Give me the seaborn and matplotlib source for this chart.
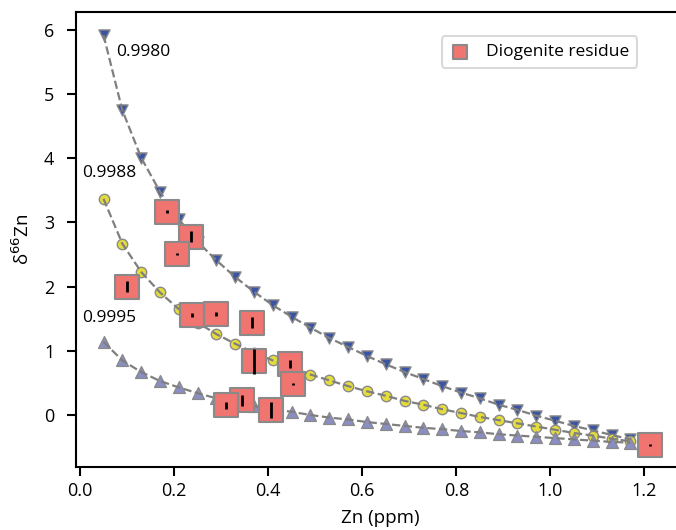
import matplotlib
matplotlib.use("Agg")
import matplotlib.pyplot as plt
import seaborn as sns
import pandas as pd

# Model curves (Rayleigh fractionation)
zn_model = [0.05, 0.09, 0.13, 0.17, 0.21, 0.25, 0.29, 0.33, 0.37, 0.41,
            0.45, 0.49, 0.53, 0.57, 0.61, 0.65, 0.69, 0.73, 0.77, 0.81,
            0.85, 0.89, 0.93, 0.97, 1.01, 1.05, 1.09, 1.13, 1.17]
d66_a9980 = [5.92, 4.75, 4.01, 3.48, 3.05, 2.70, 2.41, 2.15, 1.92, 1.71,
             1.53, 1.36, 1.20, 1.06, 0.92, 0.79, 0.67, 0.56, 0.45, 0.35,
             0.26, 0.16, 0.08, -0.01, -0.09, -0.17, -0.24, -0.31, -0.38]
d66_a9988 = [3.37, 2.67, 2.23, 1.91, 1.65, 1.44, 1.26, 1.11, 0.97, 0.85,
             0.74, 0.63, 0.54, 0.45, 0.37, 0.30, 0.22, 0.16, 0.09, 0.03,
             -0.03, -0.08, -0.13, -0.18, -0.23, -0.28, -0.32, -0.37, -0.41]
d66_a9995 = [1.14, 0.85, 0.67, 0.53, 0.43, 0.34, 0.26, 0.20, 0.14, 0.09,
             0.05, 0.00, -0.04, -0.07, -0.11, -0.14, -0.17, -0.20, -0.22, -0.25,
             -0.27, -0.30, -0.32, -0.34, -0.36, -0.38, -0.40, -0.42, -0.43]

# Diogenite residue samples
res_zn = [0.184, 0.235, 0.207, 0.100, 0.239, 0.290, 0.366, 0.369, 0.446,
          0.453, 0.344, 0.311, 0.406, 1.211]
res_d66 = [3.17, 2.78, 2.51, 2.00, 1.56, 1.58, 1.44, 0.84, 0.79,
           0.48, 0.23, 0.15, 0.08, -0.47]
res_err = [0.03, 0.085, 0.02, 0.09, 0.03, 0.03, 0.085, 0.195, 0.065,
           0.02, 0.085, 0.05, 0.12, 0.02]

labels = [("0.9980", 0.076, 5.66), ("0.9988", 0.004, 3.77), ("0.9995", 0.004, 1.51)]

sns.set_style("ticks")
plt.rcParams["font.family"] = ["Open Sans", "DejaVu Sans"]
plt.rcParams["font.size"] = 12
plt.rcParams["text.color"] = "black"
plt.rcParams["axes.labelcolor"] = "black"

fig = plt.figure(figsize=(6.76, 5.3), dpi=100)
# the frame runs past the right edge of the figure, as in the original
ax = fig.add_axes([0.1124, 0.1189, 0.8994, 0.8585])

edge = "#8a8a8a"
curves = [
    (d66_a9980, "v", "#3a54a4", 8),
    (d66_a9988, "o", "#e4dc3c", 7.5),
    (d66_a9995, "^", "#8b8ec4", 8.5),
]
for vals, mk, fc, ms in curves:
    df = pd.DataFrame({"zn": zn_model, "d66": vals})
    sns.scatterplot(data=df, x="zn", y="d66", marker=mk, color=fc,
                    s=ms ** 2, edgecolor=edge, linewidth=1.0, ax=ax, zorder=2)
    sns.lineplot(data=df, x="zn", y="d66", color="#7f7f7f", linestyle="--",
                 linewidth=1.6, sort=False, estimator=None, ax=ax, zorder=3)

res_df = pd.DataFrame({"zn": res_zn, "d66": res_d66})
sns.scatterplot(data=res_df, x="zn", y="d66", marker="s", color="#f07470",
                s=17 ** 2, edgecolor=edge, linewidth=1.5, ax=ax, zorder=4,
                label="Diogenite residue")
ax.errorbar(res_zn, res_d66, yerr=res_err, fmt="none", ecolor="black",
            elinewidth=2, capsize=0, zorder=5)

for txt, x, y in labels:
    ax.text(x, y, txt, fontsize=12.5, ha="left", va="center", color="black")

ax.set_xlim(-0.0085, 1.284)
ax.set_ylim(-0.81, 6.28)
ax.set_xticks([0.0, 0.2, 0.4, 0.6, 0.8, 1.0, 1.2])
ax.set_yticks([0, 1, 2, 3, 4, 5, 6])
ax.set_xlabel("Zn (ppm)", fontsize=13.5, labelpad=7)
ax.set_ylabel("δ$^{66}$Zn", fontsize=13.5, labelpad=8)
ax.tick_params(axis="both", direction="out", length=6.5, width=1.5,
               labelsize=13, colors="black")
ax.tick_params(axis="x", pad=4)
ax.tick_params(axis="y", pad=9)

for name, sp in ax.spines.items():
    sp.set_linewidth(1.5)
    sp.set_color("black")
    sp.set_visible(name != "right")

leg = ax.legend(loc="upper right", bbox_to_anchor=(0.9227, 0.947), borderaxespad=0,
                markerscale=0.62, fontsize=12.5, frameon=True, fancybox=True,
                handlelength=1.2, handletextpad=0.9, borderpad=0.45)
leg.get_frame().set_edgecolor("#d0d0d0")
leg.get_frame().set_linewidth(1.5)
for t in leg.get_texts():
    t.set_color("black")

fig.savefig("out.png", dpi=100)
